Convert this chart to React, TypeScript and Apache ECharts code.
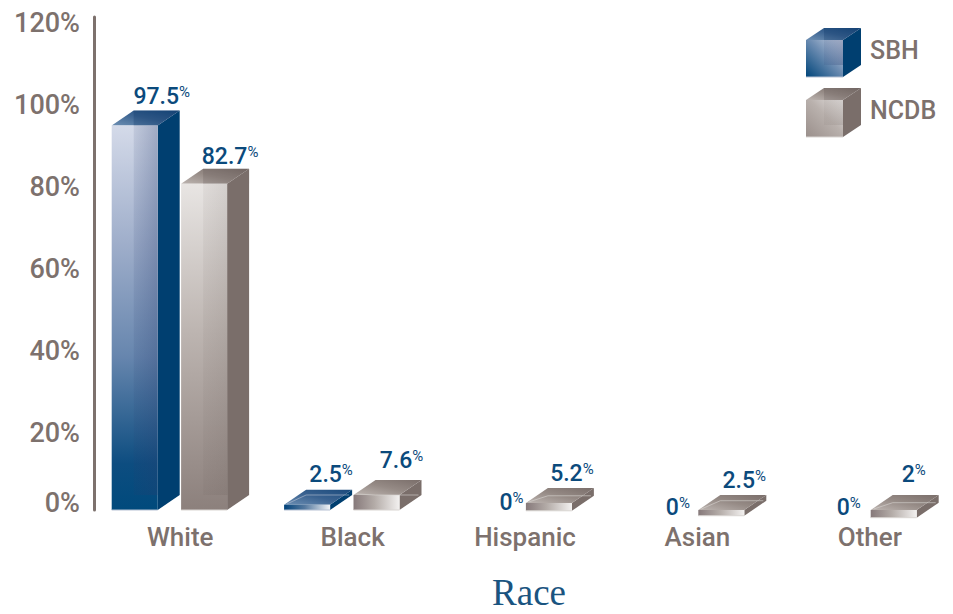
import React, { useEffect, useRef } from "react";
import * as echarts from "echarts";

// ---- data ----
const categories = ["White", "Black", "Hispanic", "Asian", "Other"];
const seriesNames = ["SBH", "NCDB"];
const sbhValues = [97.5, 2.5, 0, 0, 0];
const ncdbValues = [82.7, 7.6, 5.2, 2.5, 2];
// The small blocks in the picture are not drawn to scale: these are their
// drawn extents on the axis.
const sbhDrawnTop = [97.5, 1.3, 0, 0, 0];
const sbhDrawnBase = [0, 0, 0, 0, 0];
const ncdbDrawnTop = [82.7, 3.8, 1.8, 0, 0];
const ncdbDrawnBase = [0, 0, -0.2, -1.45, -1.95];
const tickValues = [0, 20, 40, 60, 80, 100, 120];

// ---- style ----
const FONT = "Roboto, 'Liberation Sans', sans-serif";
const GREY = "#7d716d";
const BLUE = "#0b4a7c";
const DX = 22;
const DY = 15;
const BAR_W = 46;
const OFFSETS = [-68.5, 0.9];
const LABEL_NUDGE = [
  [[50, -29], [47, -30], [55, -8], [49, -3], [47.5, -3]],
  [[49, -27], [48, -35], [46, -29], [46, -30], [43, -36]],
];

const grad = (x: number, y: number, x2: number, y2: number, stops: [number, string][]) => ({
  type: "linear", x, y, x2, y2, global: false,
  colorStops: stops.map(([offset, color]) => ({ offset, color })),
});

const PALETTE: any = {
  SBH: {
    side: "#003f70",
    tall: grad(0, 0, 0, 1, [[0, "#d4dae9"], [0.3, "#a0afcb"], [0.6, "#6786ae"], [0.88, "#0d4d80"], [1, "#004a7c"]]),
    flat: grad(0, 0, 1, 0, [[0, "#00427a"], [0.45, "#55799f"], [1, "#f2f4f7"]]),
    cube: grad(0, 1, 1, 0, [[0, "#00457a"], [0.55, "#6f8eb3"], [1, "#cfd6e6"]]),
    top: grad(0, 1, 1, 0, [[0, "#6d8fb3"], [0.5, "#3a6290"], [1, "#1a4a7c"]]),
    inner: grad(0, 0, 1, 0, [[0, "rgba(40,60,110,0.10)"], [1, "rgba(40,60,110,0.30)"]]),
    topInner: "rgba(0,40,90,0.22)",
    edge: "#b7c2d4",
  },
  NCDB: {
    side: "#7a6e6a",
    tall: grad(0, 0, 0, 1, [[0, "#e8e5e3"], [0.45, "#bdb5b1"], [1, "#8c807c"]]),
    flat: grad(0, 0, 1, 0, [[0, "#86797a"], [0.45, "#b3aba7"], [1, "#f3f1f0"]]),
    cube: grad(0, 1, 1, 0, [[0, "#9a8f8b"], [0.55, "#b9b1ad"], [1, "#e6e3e1"]]),
    top: grad(0, 1, 1, 0, [[0, "#bdb5b1"], [0.5, "#958a85"], [1, "#7a6e6a"]]),
    inner: grad(0, 0, 1, 0, [[0, "rgba(90,78,74,0.06)"], [1, "rgba(90,78,74,0.14)"]]),
    topInner: "rgba(80,68,64,0.18)",
    edge: "#d9d5d2",
  },
};

function buildBox(name: string, x: number, top: number, w: number, bottom: number, dx: number, dy: number, kind: string) {
  const p = PALETTE[name];
  const h = bottom - top;
  const out: any[] = [];
  out.push({ type: "polygon", shape: { points: [[x + w, top], [x + w + dx, top - dy], [x + w + dx, bottom - dy], [x + w, bottom]] }, style: { fill: p.side } });
  out.push({ type: "polygon", shape: { points: [[x, top], [x + dx, top - dy], [x + w + dx, top - dy], [x + w, top]] }, style: { fill: p.top } });
  out.push({ type: "rect", shape: { x, y: top, width: w, height: h }, style: { fill: p[kind] } });
  if (bottom - dy > top) {
    out.push({ type: "rect", shape: { x: x + dx, y: top, width: w - dx, height: bottom - dy - top }, style: { fill: p.inner } });
    out.push({ type: "polygon", shape: { points: [[x + dx, top - dy], [x + w + dx, top - dy], [x + w, top], [x + dx, top]] }, style: { fill: p.topInner } });
  } else {
    out.push({ type: "polyline", shape: { points: [[x + 3, top - 1], [x + dx, bottom - dy], [x + w + dx - 3, bottom - dy]] }, style: { fill: "none", stroke: p.edge, lineWidth: 1, opacity: 0.6 } });
  }
  out.push({ type: "line", shape: { x1: x, y1: bottom, x2: x + w, y2: bottom }, style: { stroke: p.edge, lineWidth: 1 } });
  return out;
}

const makeRenderItem = (seriesIndex: number) => (params: any, api: any) => {
  const i = api.value(0);
  const printed = api.value(3);
  const [cx, top] = api.coord([i, api.value(1)]);
  const [, bottom] = api.coord([i, api.value(2)]);
  const x = cx + OFFSETS[seriesIndex];
  const name = seriesNames[seriesIndex];
  const children: any[] = printed > 0 ? buildBox(name, x, top, BAR_W, bottom, DX, DY, i === 0 ? "tall" : "flat") : [];
  const [nx, ny] = LABEL_NUDGE[seriesIndex][params.dataIndex];
  children.push({
    type: "text",
    style: {
      x: x + nx,
      y: top + ny,
      text: `{n|${printed}}{p|%}`,
      align: "center",
      verticalAlign: "middle",
      rich: {
        n: { fontFamily: FONT, fontSize: 23, fontWeight: 500, fill: BLUE, lineHeight: 24 },
        p: { fontFamily: FONT, fontSize: 15, fill: BLUE, verticalAlign: "top", lineHeight: 15 },
      },
    },
  });
  return { type: "group", children };
};

const rows = (values: number[], tops: number[], bases: number[]) =>
  values.map((v, i) => [i, tops[i], bases[i], v]);

export default function App() {
  const ref = useRef<HTMLDivElement>(null);
  useEffect(() => {
    const chart = echarts.init(ref.current!, null, { renderer: "svg" });
    chart.setOption({
      animation: false,
      backgroundColor: "#fff",
      grid: [
        { left: 94, width: 862, top: 17, height: 493, outerBoundsMode: "none" },
        { left: 94, width: 862, top: 23, height: 492, outerBoundsMode: "none" },
      ],
      xAxis: [
        {
          type: "category",
          data: categories,
          gridIndex: 0,
          axisLine: { show: false },
          axisTick: { show: false },
          axisLabel: { color: GREY, fontFamily: FONT, fontSize: 26, fontWeight: 500, margin: 14 },
          name: "Race",
          nameLocation: "middle",
          nameGap: 66,
          nameTextStyle: { fontFamily: "'Liberation Serif', serif", fontSize: 37, lineHeight: 32, color: "#1a5480", padding: [0, 0, 0, 8] },
        },
        { type: "category", data: categories, gridIndex: 1, show: false },
      ],
      yAxis: [
        {
          type: "value",
          gridIndex: 0,
          min: 0,
          max: 125,
          axisLine: { show: true, lineStyle: { color: GREY, width: 3 } },
          axisTick: { show: false },
          axisLabel: { show: false },
          splitLine: { show: false },
        },
        {
          type: "value",
          gridIndex: 1,
          min: tickValues[0],
          max: tickValues[tickValues.length - 1],
          interval: 20,
          axisLine: { show: false },
          axisTick: { show: false },
          splitLine: { show: false },
          axisLabel: {
            color: GREY,
            fontFamily: FONT,
            fontSize: 27,
            fontWeight: 500,
            margin: 14,
            formatter: (v: number) => (v === 0 ? "{z|0%}" : `${v}%`),
            rich: { z: { color: GREY, fontFamily: FONT, fontSize: 27, fontWeight: 500, padding: [0, 0, 24, 0] } },
          },
        },
      ],
      legend: {
        data: seriesNames,
        orient: "vertical",
        left: 865,
        top: 29,
        itemGap: 28,
        itemWidth: 0,
        itemHeight: 32,
        selectedMode: false,
        icon: "rect",
        itemStyle: { opacity: 0 },
        textStyle: { color: GREY, fontFamily: FONT, fontSize: 25, fontWeight: 500, padding: [0, 0, 0, -5] },
      },
      graphic: [
        { type: "group", silent: true, children: buildBox("SBH", 806, 40, 37, 77, 18, 12, "cube") },
        { type: "group", silent: true, children: buildBox("NCDB", 806, 100, 37, 137, 18, 12, "cube") },
      ],
      series: [
        {
          name: seriesNames[0],
          type: "custom",
          xAxisIndex: 0,
          yAxisIndex: 0,
          clip: false,
          renderItem: makeRenderItem(0),
          encode: { x: 0, y: [1, 2] },
          data: rows(sbhValues, sbhDrawnTop, sbhDrawnBase),
        },
        {
          name: seriesNames[1],
          type: "custom",
          xAxisIndex: 0,
          yAxisIndex: 0,
          clip: false,
          renderItem: makeRenderItem(1),
          encode: { x: 0, y: [1, 2] },
          data: rows(ncdbValues, ncdbDrawnTop, ncdbDrawnBase),
        },
      ],
    });
    return () => chart.dispose();
  }, []);
  return <div ref={ref} style={{ position: "fixed", left: 0, top: 0, width: 953, height: 614 }} />;
}
